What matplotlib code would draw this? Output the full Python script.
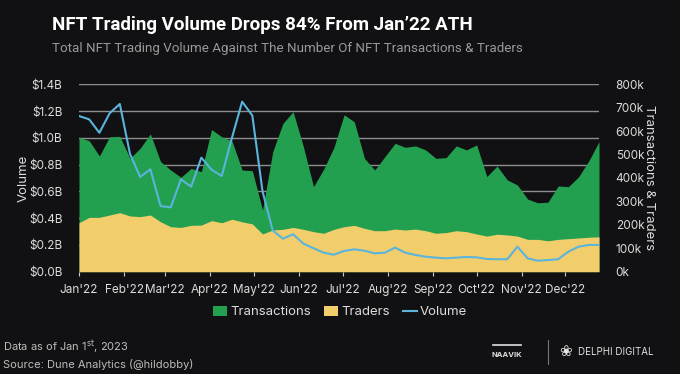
import matplotlib
matplotlib.use("Agg")
import matplotlib.pyplot as plt
from matplotlib.lines import Line2D
from matplotlib.patches import Patch
import pandas as pd

# ---- data (weekly, 2022) ----
weeks = pd.date_range("2022-01-01", periods=52, freq="7D")
transactions_k = [574, 559, 494, 576, 578, 484, 527, 588, 470, 434, 403, 441, 427, 607,
                  576, 558, 434, 431, 263, 512, 633, 683, 535, 363, 438, 530, 670, 640,
                  484, 434, 491, 548, 531, 537, 520, 484, 487, 537, 520, 541, 406, 451,
                  392, 370, 310, 294, 297, 366, 363, 405, 473, 555]
traders_k = [209, 232, 232, 242, 252, 238, 235, 242, 213, 192, 189, 198, 199, 218,
             209, 224, 213, 204, 161, 178, 181, 189, 181, 171, 164, 181, 192, 198,
             185, 175, 175, 182, 178, 182, 175, 164, 167, 175, 171, 161, 152, 160,
             157, 152, 138, 138, 132, 138, 141, 144, 147, 149]
volume_b = [1.163, 1.138, 1.038, 1.183, 1.253, 0.88, 0.708, 0.765, 0.49, 0.481, 0.69,
            0.635, 0.852, 0.762, 0.715, 1.0, 1.27, 1.167, 0.6, 0.308, 0.247, 0.28,
            0.21, 0.175, 0.142, 0.127, 0.155, 0.167, 0.157, 0.137, 0.142, 0.18, 0.142,
            0.125, 0.112, 0.105, 0.1, 0.105, 0.11, 0.107, 0.095, 0.093, 0.093, 0.187,
            0.1, 0.082, 0.087, 0.093, 0.15, 0.187, 0.2, 0.2]
left_ticks = [0.0, 0.2, 0.4, 0.6, 0.8, 1.0, 1.2, 1.4]
right_ticks = [0, 100, 200, 300, 400, 500, 600, 700, 800]
month_labels = ["Jan'22", "Feb'22", "Mar'22", "Apr'22", "May'22", "Jun'22",
                "Jul'22", "Aug'22", "Sep'22", "Oct'22", "Nov'22", "Dec'22"]

BG = "#111113"
GREEN = "#22a04f"
YELLOW = "#f2cd6c"
BLUE = "#5ab4dc"
GRID = "#8e8e8e"
TXT = "#dcdcdc"

plt.rcParams["font.family"] = ["Inter", "DejaVu Sans"]

fig = plt.figure(figsize=(6.8, 3.74), dpi=100, facecolor=BG)
ax = fig.add_axes([79/680, 1-271.7/374, 520/680, (271.7-84.3)/374])
ax.set_facecolor(BG)
ax2 = ax.twinx()

ax2.fill_between(weeks, 0, transactions_k, color=GREEN, lw=0, zorder=2)
ax2.fill_between(weeks, 0, traders_k, color=YELLOW, lw=0, zorder=3)
ax2.set_ylim(0, 800)
ax2.set_yticks(right_ticks)
ax2.set_yticklabels([f"{v}k" for v in right_ticks])

ax.set_zorder(ax2.get_zorder() + 1)
ax.patch.set_visible(False)
ax2.patch.set_facecolor(BG)
ax2.patch.set_visible(True)

for v in left_ticks[1:]:
    ax2.axhline(v / 1.4 * 800, color=GRID, lw=1.0, zorder=1)

ax.plot(weeks, volume_b, color=BLUE, lw=1.5, zorder=5)
ax.set_ylim(0, 1.4)
ax.set_yticks(left_ticks)
ax.set_yticklabels([f"${v:.1f}B" for v in left_ticks])
ax.set_xlim(weeks[0], weeks[-1])

month_starts = pd.date_range("2022-01-01", periods=12, freq="MS")
ax.set_xticks(month_starts)
ax.set_xticklabels(month_labels)

for a in (ax, ax2):
    for s in a.spines.values():
        s.set_visible(False)
    a.tick_params(colors=TXT, labelsize=8.5, length=3, width=0.8)
ax.tick_params(axis="y", length=0, pad=12)
ax2.tick_params(axis="y", length=0, pad=12)
ax.tick_params(axis="x", length=3, pad=6, color="#cccccc")

ax.set_ylabel("Volume", color=TXT, fontsize=9.5, va="center")
ax.yaxis.set_label_coords((24-79)/520, 0.5)
ax2.set_ylabel("Transactions & Traders", color=TXT, fontsize=9.5, rotation=-90, va="center")
ax2.yaxis.set_label_coords((649-79)/520, 0.5)

fig.text(52/680, 1-30/374, "NFT Trading Volume Drops 84% From Jan\u201922 ATH",
         color="white", fontsize=13.5, fontweight="bold", ha="left", va="baseline",
         family=["Roboto", "DejaVu Sans"])
fig.text(52/680, 1-52/374, "Total NFT Trading Volume Against The Number Of NFT Transactions & Traders",
         color="#999999", fontsize=9.6, ha="left", va="baseline",
         family=["Roboto", "DejaVu Sans"])

handles = [Patch(facecolor=GREEN, edgecolor="none"),
           Patch(facecolor=YELLOW, edgecolor="none"),
           Line2D([0], [0], color=BLUE, lw=1.5)]
fig.legend(handles, ["Transactions", "Traders", "Volume"], loc="center",
           bbox_to_anchor=(340/680, 1-312/374), ncol=3, frameon=False,
           fontsize=9.5, labelcolor=TXT, handlelength=1.1, handleheight=0.8,
           handletextpad=0.2, columnspacing=1.0)

fig.text(3/680, 1-347/374, r"Data as of Jan 1$^{\mathrm{st}}$, 2023", color="#bdbdbd",
         fontsize=8, ha="left", va="center")
fig.text(3/680, 1-364/374, "Source: Dune Analytics (@hildobby)", color="#bdbdbd",
         fontsize=8, ha="left", va="center")

fig.text(507/680, 1-355/374, "NAAVIK", color="#e0e0e0", fontsize=5.5,
         fontweight="bold", ha="center", va="center")
fig.add_artist(Line2D([493/680, 521/680], [1-345/374, 1-345/374], color="#e0e0e0", lw=1.2))
fig.add_artist(Line2D([548/680, 548/680], [1-340/374, 1-364/374], color="#777777", lw=0.8))
fig.text(566/680, 1-352/374, "\u2740", color="#e0e0e0", fontsize=11,
         ha="center", va="center", family=["DejaVu Sans"])
fig.text(578/680, 1-352/374, "DELPHI DIGITAL", color="#e0e0e0", fontsize=7,
         ha="left", va="center")

fig.savefig("out.png", dpi=100, facecolor=BG)
